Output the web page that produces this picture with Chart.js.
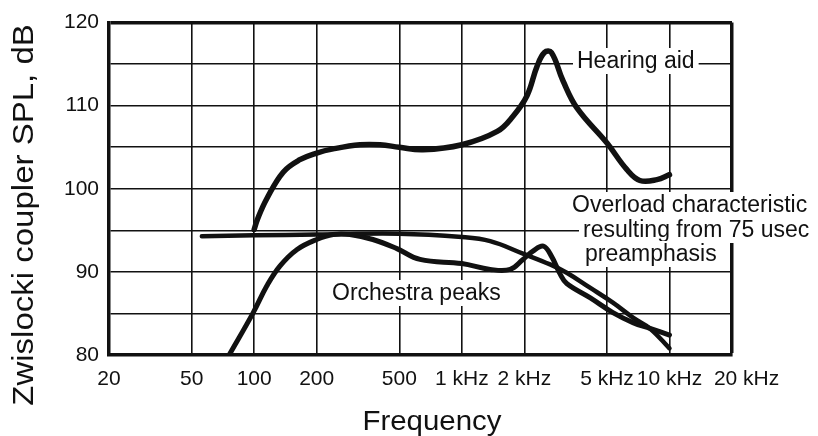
<!DOCTYPE html>
<html>
<head>
<meta charset="utf-8">
<script src="https://cdn.jsdelivr.net/npm/chart.js@4.4.1/dist/chart.umd.min.js"></script>
<style>
  html, body { margin: 0; padding: 0; background: #fff; }
  #wrap { width: 818px; height: 436px; position: relative; }
</style>
</head>
<body>
<div id="wrap"><canvas id="spl"></canvas></div>
<script>
const ink = "#111";
const font = '"Liberation Sans", Arial, Helvetica, sans-serif';

// values (Hz, dB)
const hearingFreq = [100, 104, 115, 138, 166, 200, 240, 323, 404, 500, 650, 1000, 1480, 1760, 2060, 2300, 2500, 2700, 3070, 3590, 5000, 6240, 7200, 8700, 10000];
const hearingSpl = [95.1, 96.4, 98.8, 102.0, 103.5, 104.3, 104.8, 105.3, 105.3, 105.0, 104.7, 105.3, 106.9, 108.7, 111.2, 114.7, 116.4, 116.4, 113.0, 109.7, 105.5, 102.3, 101.0, 101.1, 101.7];

const overloadFreq = [56, 100, 200, 500, 1000, 1370, 1970, 2660, 3200, 4140, 5340, 6670, 8050, 10000];
const overloadSpl = [94.3, 94.4, 94.5, 94.6, 94.2, 93.7, 92.2, 90.9, 89.9, 88.1, 86.3, 84.5, 83.2, 80.8];

const orchestraFreq = [75, 99, 115, 133, 161, 200, 240, 289, 373, 487, 629, 1000, 1370, 1710, 1970, 2200, 2470, 2700, 2980, 3200, 4140, 5340, 6670, 8050, 10000];
const orchestraSpl = [79.8, 85.1, 88.3, 90.7, 92.7, 93.9, 94.5, 94.5, 93.9, 92.8, 91.5, 91.0, 90.3, 90.3, 91.5, 92.5, 93.1, 91.9, 89.7, 88.6, 86.9, 85.1, 83.9, 83.2, 82.4];

const xTickValues = [20, 50, 100, 200, 500, 1000, 2000, 5000, 10000, 20000];
const xTickLabels = ["20", "50", "100", "200", "500", "1 kHz", "2 kHz", "5 kHz", "10 kHz", "     20 kHz"];
const yLabelledTicks = [80, 90, 100, 110, 120];

function pts(xs, ys) {
  return xs.map((x, i) => ({ x: x, y: ys[i] }));
}

// text on the plot: label boxes are white so grid lines break behind them
const notes = [
  { text: "Hearing aid", x: 577, y: 68 },
  { text: "Overload characteristic", x: 572, y: 212 },
  { text: "resulting from 75 usec", x: 583, y: 237 },
  { text: "preamphasis", x: 585, y: 261 },
  { text: "Orchestra peaks", x: 332, y: 300 },
];

const annotate = {
  id: "annotate",
  beforeDatasetsDraw(chart) {
    const ctx = chart.ctx;
    ctx.save();
    ctx.font = "23px " + font;
    ctx.textAlign = "left";
    ctx.textBaseline = "alphabetic";
    notes.forEach((n) => {
      const w = ctx.measureText(n.text).width;
      ctx.fillStyle = "#fff";
      ctx.fillRect(n.x - 4, n.y - 20, w + 8, 26);
      ctx.fillStyle = ink;
      ctx.fillText(n.text, n.x, n.y);
    });
    ctx.restore();
  },
  afterDraw(chart) {
    const ctx = chart.ctx;
    ctx.save();
    ctx.fillStyle = ink;
    ctx.textAlign = "center";
    ctx.textBaseline = "alphabetic";
    // y title
    ctx.save();
    ctx.translate(33, 215);
    ctx.rotate(-Math.PI / 2);
    ctx.scale(1.1, 1);
    ctx.font = "30px " + font;
    ctx.fillText("Zwislocki coupler SPL, dB", 0, 0);
    ctx.restore();
    // x title
    ctx.save();
    ctx.translate(432, 430);
    ctx.scale(1.09, 1);
    ctx.font = "27px " + font;
    ctx.fillText("Frequency", 0, 0);
    ctx.restore();
    ctx.restore();
  },
};

const line = (data, width) => ({
  data: data,
  borderColor: ink,
  borderWidth: width,
  pointRadius: 0,
  fill: false,
  tension: 0.4,
  borderCapStyle: "round",
  borderJoinStyle: "round",
});

new Chart(document.getElementById("spl"), {
  type: "line",
  data: {
    datasets: [
      line(pts(hearingFreq, hearingSpl), 5.5),
      line(pts(overloadFreq, overloadSpl), 4.5),
      line(pts(orchestraFreq, orchestraSpl), 5),
    ],
  },
  options: {
    responsive: true,
    maintainAspectRatio: false,
    animation: false,
    layout: { padding: { top: 18, right: 86, left: 0, bottom: 0 } },
    plugins: { legend: { display: false }, tooltip: { enabled: false } },
    scales: {
      x: {
        type: "logarithmic",
        min: 20,
        max: 20000,
        afterBuildTicks: (scale) => {
          scale.ticks = xTickValues.map((v) => ({ value: v }));
        },
        afterFit: (scale) => { scale.height = 81; },
        ticks: {
          autoSkip: false,
          maxRotation: 0,
          padding: 12,
          color: ink,
          font: { family: font, size: 21 },
          callback: (v, i) => xTickLabels[i],
        },
        grid: {
          color: ink,
          drawTicks: false,
          lineWidth: (c) => (c.tick && c.tick.value === 20000 ? 3.5 : 1.6),
        },
        border: { color: ink, width: 3.5 },
      },
      y: {
        min: 80,
        max: 120,
        afterFit: (scale) => { scale.width = 109; },
        ticks: {
          stepSize: 5,
          padding: 10,
          color: ink,
          font: { family: font, size: 21 },
          callback: (v) => (yLabelledTicks.includes(v) ? String(v) : ""),
        },
        grid: {
          color: ink,
          drawTicks: false,
          lineWidth: (c) => (c.tick && c.tick.value === 120 ? 3.5 : 1.6),
        },
        border: { color: ink, width: 3.5 },
      },
    },
  },
  plugins: [annotate],
});
</script>
</body>
</html>
